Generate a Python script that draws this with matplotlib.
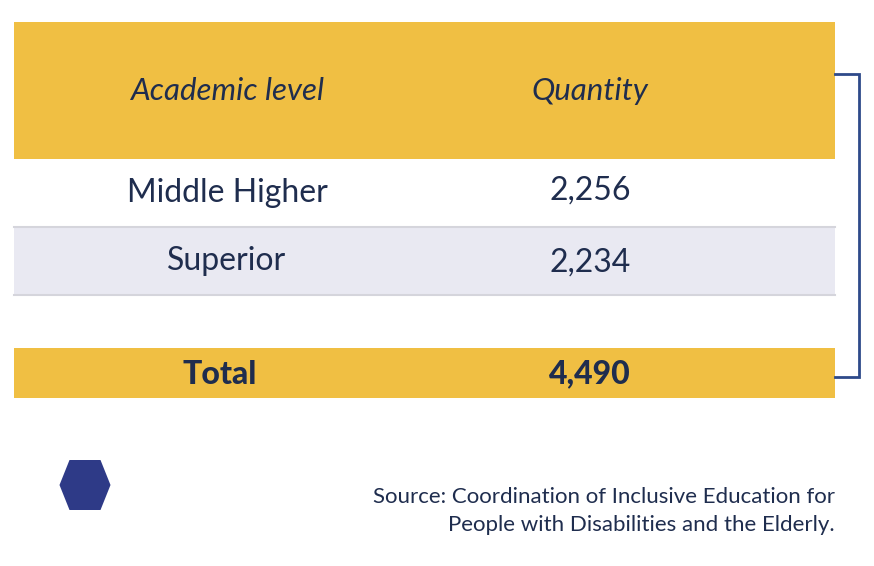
import matplotlib.pyplot as plt
from matplotlib.patches import Rectangle, Polygon

# Table content
header = ["Academic level", "Quantity"]
levels = ["Middle Higher", "Superior"]
quantities = [2256, 2234]
total_label = "Total"
total_value = sum(quantities)
source = "Source: Coordination of Inclusive Education for\nPeople with Disabilities and the Elderly."

yellow = "#F0BF43"
navy = "#1F2D4E"
stripe = "#E9E9F2"
bracket = "#2E4A8A"

plt.rcParams['font.family'] = ['Lato', 'DejaVu Sans']

fig = plt.figure(figsize=(8.74, 5.66), dpi=100)
ax = fig.add_axes([0, 0, 1, 1])
ax.set_xlim(0, 874)
ax.set_ylim(566, 0)
ax.axis("off")

left, mid, right = 14, 476, 835
col_x = [227, 590]

# header
ax.add_patch(Rectangle((left, 22), right - left, 137, color=yellow, lw=0))
for x, h in zip(col_x, header):
    ax.text(x, 91, h, ha="center", va="center", fontsize=22.5, style="italic", color=navy)

# body rows
row_top = 159
row_h = 68
for i, (lvl, q) in enumerate(zip(levels, quantities)):
    y0 = row_top + i * row_h
    if i % 2 == 1:
        ax.add_patch(Rectangle((left, y0), right - left, row_h, color=stripe, lw=0))
    ax.plot([left, right], [y0 + row_h, y0 + row_h], color="#D5D5DC", lw=1.5)
    ax.text(col_x[0], y0 + row_h / 2, lvl, ha="center", va="center", fontsize=23, color=navy)
    ax.text(col_x[1], y0 + row_h / 2 + (-2 if i == 0 else 2), f"{q:,}",
            ha="center", va="center", fontsize=23, color=navy)

# total row
ax.add_patch(Rectangle((left, 348), right - left, 50, color=yellow, lw=0))
ax.text(220, 374, total_label, ha="center", va="center", fontsize=23, weight="black", color=navy)
ax.text(col_x[1], 374, f"{total_value:,}", ha="center", va="center", fontsize=23, weight="black", color=navy)

# bracket
ax.plot([right, 859, 859, right], [74, 74, 377, 377], color=bracket, lw=2, solid_joinstyle="miter")

# hexagon (flat top and bottom, pointed sides)
cx, cy, hw, hh, tw = 85, 485, 25.5, 25, 15.5
ax.add_patch(Polygon([(cx - hw, cy), (cx - tw, cy - hh), (cx + tw, cy - hh),
                      (cx + hw, cy), (cx + tw, cy + hh), (cx - tw, cy + hh)],
                     closed=True, color="#2E3A87", lw=0))

ax.text(right, 511, source, ha="right", va="center", fontsize=16, color=navy, linespacing=1.5)

fig.savefig("out.png", dpi=100)
